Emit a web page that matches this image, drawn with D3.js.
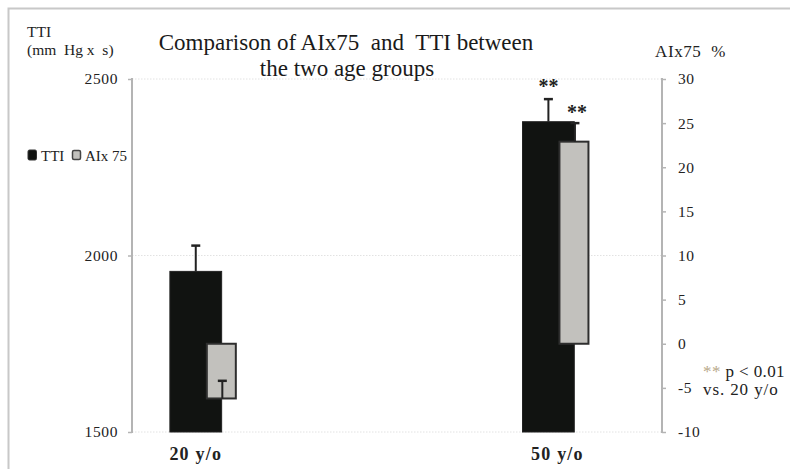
<!DOCTYPE html>
<html>
<head>
<meta charset="utf-8">
<script src="https://cdn.jsdelivr.net/npm/d3@7"></script>
<style>
  body { margin: 0; background: #fff; }
  svg { display: block; font-family: "Liberation Serif", "Times New Roman", serif; }
  text { white-space: pre; }
  .axis-line { stroke: #b4b4b4; stroke-width: 2; }
  .grid-line { stroke: #e2e2e2; stroke-width: 1; stroke-dasharray: 1.5 1.5; }
</style>
</head>
<body>
<svg id="chart"></svg>
<script>
// Data
const groups = ['20 y/o', '50 y/o'];
const ttiValues = [1955, 2379];
const ttiErrors = [73, 64];
const aixValues = [-6.2, 22.9];
const aixErrors = [2.0, 2.1];
const ttiTicks = [1500, 2000, 2500];
const aixTicks = [-10, -5, 0, 5, 10, 15, 20, 25, 30];

const config = {
  width: 790,
  height: 469,
  margin: {top: 79, right: 128, bottom: 37, left: 132}
};

const svg = d3.select('#chart')
    .attr('width', config.width)
    .attr('height', config.height);

const innerW = config.width - config.margin.left - config.margin.right;
const innerH = config.height - config.margin.top - config.margin.bottom;

// outer frame (only top and left edges are visible in the crop)
svg.append('path')
    .attr('d', `M8.5,${config.height} V8.5 H${config.width}`)
    .attr('fill', 'none')
    .attr('stroke', '#c8c8c8')
    .attr('stroke-width', 2);

const chart = svg.append('g')
    .attr('transform', `translate(${config.margin.left},${config.margin.top})`);

// Scales
const xScale = d3.scaleBand()
    .domain(groups)
    .range([0, innerW])
    .paddingInner(0.813)
    .paddingOuter(0.158)
    .align(0.34);

const yLeft = d3.scaleLinear()
    .domain([ttiTicks[0], ttiTicks[ttiTicks.length - 1]])
    .range([innerH, 0]);

const yRight = d3.scaleLinear()
    .domain([aixTicks[0], aixTicks[aixTicks.length - 1]])
    .range([innerH, 0]);

// bar layout inside each band
const ttiW = xScale.bandwidth() * 0.785;
const aixX0 = xScale.bandwidth() * 0.56;
const aixW = xScale.bandwidth() - aixX0;

// gridlines
chart.selectAll('.grid-line')
    .data(ttiTicks)
    .join('line')
    .attr('class', 'grid-line')
    .attr('x1', 0)
    .attr('x2', innerW)
    .attr('y1', d => yLeft(d))
    .attr('y2', d => yLeft(d));

// Axes
const leftAxis = d3.axisLeft(yLeft)
    .tickValues(ttiTicks)
    .tickSize(4)
    .tickPadding(10)
    .tickFormat(d3.format('d'));

const rightAxis = d3.axisRight(yRight)
    .tickValues(aixTicks)
    .tickSize(4)
    .tickPadding(12)
    .tickFormat(d => d < 0 ? '-' + Math.abs(d) : d);

const gl = chart.append('g').call(leftAxis);
const gr = chart.append('g').attr('transform', `translate(${innerW},0)`).call(rightAxis);

[gl, gr].forEach(g => {
  g.select('.domain').remove();
  g.selectAll('.tick line').attr('stroke', '#b4b4b4').attr('stroke-width', 1.5);
  g.selectAll('.tick text')
      .attr('fill', '#222')
      .style('font-family', '"Liberation Serif", serif')
      .style('font-size', '15.5px')
      .style('letter-spacing', '0.6px');
});

chart.append('line').attr('class', 'axis-line')
    .attr('x1', 0).attr('x2', 0).attr('y1', -1).attr('y2', innerH + 1);
chart.append('line').attr('class', 'axis-line')
    .attr('x1', innerW).attr('x2', innerW).attr('y1', -1).attr('y2', innerH + 1);

// TTI bars
chart.selectAll('.tti-bar')
    .data(groups)
    .join('rect')
    .attr('class', 'tti-bar')
    .attr('x', d => xScale(d))
    .attr('width', ttiW)
    .attr('y', (d, i) => yLeft(ttiValues[i]))
    .attr('height', (d, i) => yLeft(ttiTicks[0]) - yLeft(ttiValues[i]))
    .attr('fill', '#111311')
    .attr('stroke', '#222')
    .attr('stroke-width', 1);

// error bars, plus direction only
function errorBars(cls, xs, y0s, y1s) {
  const g = chart.selectAll('.' + cls)
      .data(groups)
      .join('g')
      .attr('class', cls);
  g.append('line')
      .attr('x1', (d, i) => xs[i]).attr('x2', (d, i) => xs[i])
      .attr('y1', (d, i) => y0s[i]).attr('y2', (d, i) => y1s[i])
      .attr('stroke', '#222').attr('stroke-width', 2);
  g.append('line')
      .attr('x1', (d, i) => xs[i] - 4.5).attr('x2', (d, i) => xs[i] + 4.5)
      .attr('y1', (d, i) => y1s[i]).attr('y2', (d, i) => y1s[i])
      .attr('stroke', '#222').attr('stroke-width', 2.5);
}

errorBars('tti-err',
    groups.map(d => xScale(d) + ttiW / 2),
    ttiValues.map(v => yLeft(v)),
    ttiValues.map((v, i) => yLeft(v + ttiErrors[i])));

// AIx75 bars
chart.selectAll('.aix-bar')
    .data(groups)
    .join('rect')
    .attr('class', 'aix-bar')
    .attr('x', d => xScale(d) + aixX0)
    .attr('width', aixW)
    .attr('y', (d, i) => yRight(Math.max(0, aixValues[i])))
    .attr('height', (d, i) => Math.abs(yRight(aixValues[i]) - yRight(0)))
    .attr('fill', '#c2c1bd')
    .attr('stroke', '#2e2e2e')
    .attr('stroke-width', 2);

errorBars('aix-err',
    groups.map(d => xScale(d) + aixX0 + aixW / 2 + 1),
    aixValues.map(v => yRight(v)),
    aixValues.map((v, i) => yRight(v + aixErrors[i])));

// significance marks on the 50 y/o group
const last = groups.length - 1;
chart.append('text')
    .attr('x', xScale(groups[last]) + ttiW / 2)
    .attr('y', yLeft(ttiValues[last] + ttiErrors[last]) - 6)
    .attr('text-anchor', 'middle')
    .attr('fill', '#222')
    .style('font-size', '20px')
    .style('font-weight', 'bold')
    .text('**');
chart.append('text')
    .attr('x', xScale(groups[last]) + aixX0 + aixW / 2 + 3)
    .attr('y', yRight(aixValues[last] + aixErrors[last]) - 4)
    .attr('text-anchor', 'middle')
    .attr('fill', '#222')
    .style('font-size', '20px')
    .style('font-weight', 'bold')
    .text('**');

// category labels
chart.selectAll('.cat-label')
    .data(groups)
    .join('text')
    .attr('class', 'cat-label')
    .attr('x', (d, i) => xScale(d) + ttiW / 2 + (i === last ? 9 : 0))
    .attr('y', innerH + 28)
    .attr('text-anchor', 'middle')
    .attr('fill', '#222')
    .style('font-size', '18px')
    .style('font-weight', 'bold')
    .style('letter-spacing', '1.2px')
    .text(d => d);

// titles
svg.append('text')
    .attr('x', 346).attr('y', 50)
    .attr('text-anchor', 'middle')
    .attr('fill', '#1a1a1a')
    .style('font-size', '23px')
    .text('Comparison of AIx75  and  TTI between');
svg.append('text')
    .attr('x', 347).attr('y', 76)
    .attr('text-anchor', 'middle')
    .attr('fill', '#1a1a1a')
    .style('font-size', '23px')
    .text('the two age groups');

svg.append('text')
    .attr('x', 27).attr('y', 37)
    .attr('fill', '#222')
    .style('font-size', '15.5px')
    .text('TTI');
svg.append('text')
    .attr('x', 27).attr('y', 55)
    .attr('fill', '#222')
    .style('font-size', '15.5px')
    .text('(mm  Hg x  s)');
svg.append('text')
    .attr('x', 655).attr('y', 57)
    .attr('fill', '#222')
    .style('font-size', '17px')
    .style('letter-spacing', '0.6px')
    .text('AIx75  %');

// legend
const legend = svg.append('g').attr('transform', 'translate(28,150)');
legend.append('rect')
    .attr('width', 8.5).attr('height', 10).attr('rx', 1.5)
    .attr('fill', '#111311').attr('stroke', '#333').attr('stroke-width', 1);
legend.append('text')
    .attr('x', 13).attr('y', 11)
    .attr('fill', '#222')
    .style('font-size', '15px')
    .text('TTI');
legend.append('rect')
    .attr('x', 44.5).attr('y', 0.5)
    .attr('width', 8).attr('height', 9).attr('rx', 1.5)
    .attr('fill', '#c2c1bd').attr('stroke', '#444').attr('stroke-width', 1.5);
legend.append('text')
    .attr('x', 57).attr('y', 11)
    .attr('fill', '#222')
    .style('font-size', '15px')
    .text('AIx 75');

// note
const note = svg.append('text')
    .attr('x', 703).attr('y', 377)
    .attr('fill', '#222')
    .style('font-size', '17px')
    .style('letter-spacing', '0.4px');
note.append('tspan').attr('fill', '#b8a888').text('** ');
note.append('tspan').text('p < 0.01');
svg.append('text')
    .attr('x', 703).attr('y', 395)
    .attr('fill', '#222')
    .style('font-size', '17px')
    .style('letter-spacing', '0.9px')
    .text('vs. 20 y/o');
</script>
</body>
</html>
